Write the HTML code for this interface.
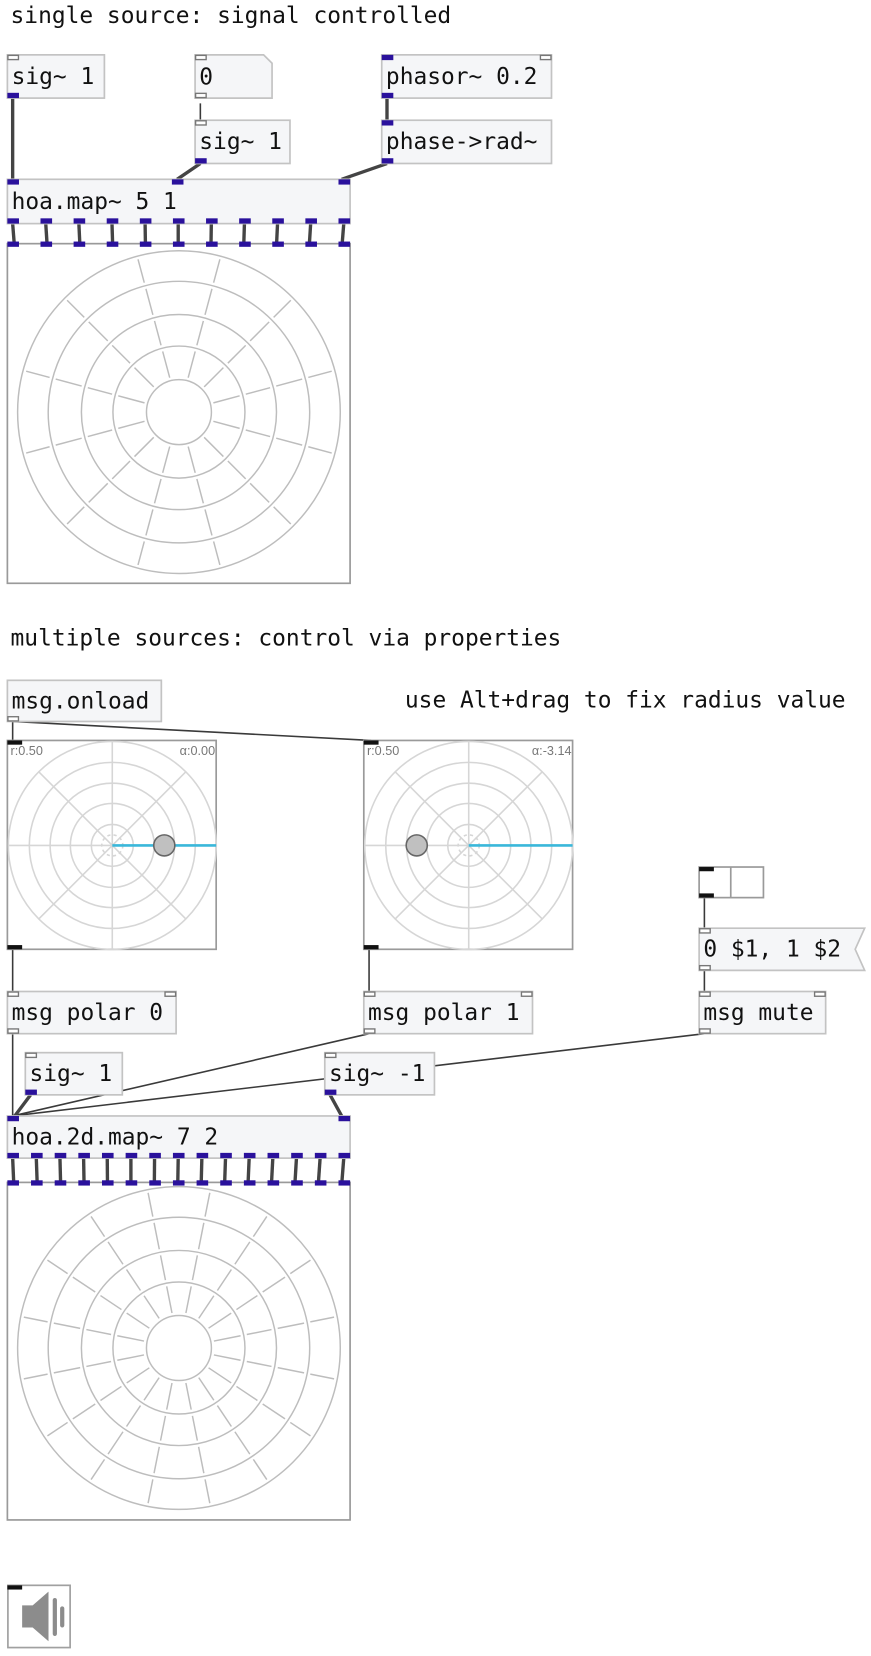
<!DOCTYPE html>
<html><head><meta charset="utf-8"><style>
html,body{margin:0;padding:0;background:#fff;}
svg{display:block;}
text{font-family:"DejaVu Sans Mono","Liberation Mono",monospace;font-size:21.7px;fill:#111;}
.sm{font-family:"Liberation Sans",sans-serif;font-size:12px;fill:#777;}
</style></head><body>
<svg id="patch" width="871" height="1656" viewBox="0 0 826 1570" preserveAspectRatio="none" xmlns="http://www.w3.org/2000/svg">
<text x="10" y="22">single source: signal controlled</text>
<text x="10" y="612">multiple sources: control via properties</text>
<text x="384" y="671">use Alt+drag to fix radius value</text>
<g id="wires"></g>
<g id="objs"></g>
</svg>
<script>
const NS='http://www.w3.org/2000/svg';
const wires=document.getElementById('wires'), objs=document.getElementById('objs');
function el(tag,attrs,parent){const e=document.createElementNS(NS,tag);for(const k in attrs)e.setAttribute(k,attrs[k]);(parent||objs).appendChild(e);return e;}
function wire(x1,y1,x2,y2,thick){const l=el('line',{x1:x1,y1:y1,x2:x2,y2:y2,stroke:thick?'#444':'#3a3a3a','stroke-width':thick?3.2:1.5},wires);

}
function port(x,y,kind){let a;
if(kind==='sig')a={x:x,y:y,width:11,height:5,fill:'#2a119c'};
else if(kind==='blk')a={x:x,y:y,width:14,height:4,fill:'#111'};
else a={x:x+0.5,y:y+0.5,width:10,height:4,fill:'#fff',stroke:'#777','stroke-width':1.3};
const r=el('rect',a);

}
function box(name,x,y,w,h,label,ins,outs){const g=el('g',{});


el('rect',{x:x,y:y,width:w,height:h,fill:'#f5f6f8',stroke:'#c3c3c3','stroke-width':1.6},g);
const t=el('text',{x:x+4,y:y+h/2+7},g);t.textContent=label;
(ins||[]).forEach(p=>port(p[0]==='r'?x+w-11:x+p[0],y,p[1]));
(outs||[]).forEach(p=>port(p[0]==='r'?x+w-11:x+p[0],y+h-5,p[1]));}
// wires section 1
wire(12,93,12,170,1);wire(190,98,190,114,0);wire(190,155,168,170,1);wire(367,93,367,114,1);wire(367,155,324,170,1);
const n1=11;for(let i=0;i<n1;i++){const x=12+i*(314/(n1-1));wire(x+0.0*i,212,x-0.3*i+1.5,231,1);}
// section 2
wire(12,684,12,702,0);wire(12,684,352,702,0);wire(12,900,12,940,0);wire(350,900,350,940,0);
wire(668,851,668,880,0);wire(668,920,668,940,0);wire(12,980,12,1058,0);wire(350,980,12,1058,0);wire(668,980,12,1058,0);
wire(29,1038,14,1058,1);wire(313,1038,324,1058,1);
const n2=15;for(let i=0;i<n2;i++){const x=12+i*(314/(n2-1));wire(x,1098,x-0.2*i+1,1121,1);}
// boxes section 1
box('sig-1-box',7,52,92,41,'sig~ 1',[[0,'ctl']],[[0,'sig']]);
{const g=el('g',{});


el('path',{d:'M185 52 H250 L258 60 V93 H185 Z',fill:'#f5f6f8',stroke:'#c3c3c3','stroke-width':1.6},g);
const t=el('text',{x:189,y:80},g);t.textContent='0';port(185,52,'ctl');port(185,88,'ctl');}
box('sig-1-box-2',185,114,90,41,'sig~ 1',[[0,'ctl']],[[0,'sig']]);
box('phasor-box',362,52,161,41,'phasor~ 0.2',[[0,'sig'],['r','ctl']],[[0,'sig']]);
box('phase-rad-box',362,114,161,41,'phase->rad~',[[0,'sig']],[[0,'sig']]);
box('hoa-map-box',7,170,325,42,'hoa.map~ 5 1',[[0,'sig'],[156,'sig'],['r','sig']],[]);
for(let i=0;i<n1;i++)port(7+i*(314/(n1-1)),207,'sig');
function hoaMap(name,y0,h,cy,nSp,nIn){const g=el('g',{});


el('rect',{x:7,y:y0,width:325,height:h,fill:'#fff',stroke:'#9a9a9a','stroke-width':1.6},g);
const cx=169.7,R=[30.8,62.6,92.5,124,153];
R.forEach(r=>el('circle',{cx:cx,cy:cy,r:r,fill:'none',stroke:'#bdbdbd','stroke-width':1.4},g));
for(let k=0;k<nSp;k++){const a=(k+0.5)*2*Math.PI/nSp;const s=Math.sin(a),c=-Math.cos(a);
for(let j=0;j<R.length-1;j++){const r1=R[j]+3,r2=R[j+1]-3;
el('line',{x1:cx+s*r1,y1:cy+c*r1,x2:cx+s*r2,y2:cy+c*r2,stroke:'#bdbdbd','stroke-width':1.4},g);}}
for(let i=0;i<nIn;i++)port(7+i*(314/(nIn-1)),y0-2,'sig');}
hoaMap('hoa-map-display',231,322,390.7,12,n1);
// section 2 boxes
box('msg-onload-box',7,645,146,39,'msg.onload',[],[[0,'ctl']]);
function planar(name,x0,kx,ang){const g=el('g',{});


el('rect',{x:x0,y:702,width:198,height:198,fill:'#fff',stroke:'#9a9a9a','stroke-width':1.6},g);
const cx=x0+99.5,cy=801.5;
[98.6,78.7,59,39.8,19.9].forEach(r=>el('circle',{cx:cx,cy:cy,r:r,fill:'none',stroke:'#d6d6d6','stroke-width':1.5},g));
el('circle',{cx:cx,cy:cy,r:10,fill:'none',stroke:'#d6d6d6','stroke-width':1.5,'stroke-dasharray':'3 3'},g);
[0,45,90,135].forEach(d=>{const a=d*Math.PI/180,s=Math.cos(a)*98.6,c=Math.sin(a)*98.6;
el('line',{x1:cx-s,y1:cy-c,x2:cx+s,y2:cy+c,stroke:'#d6d6d6','stroke-width':1.5},g);});
el('line',{x1:cx,y1:cy,x2:x0+198,y2:cy,stroke:'#3ab7da','stroke-width':2.5},g);
el('circle',{cx:cx+kx,cy:cy,r:10,fill:'#c0c0c0',stroke:'#666','stroke-width':1.5},g);
const t1=el('text',{x:x0+3,y:716,class:'sm'},g);t1.textContent='r:0.50';
const t2=el('text',{x:x0+197,y:716,class:'sm','text-anchor':'end'},g);t2.textContent=ang;
port(x0,702,'blk');port(x0,896,'blk');}
planar('planar-control-1',7,49.3,'α:0.00');
planar('planar-control-2',345,-49.3,'α:-3.14');
{const g=el('g',{});


el('rect',{x:663,y:822,width:61,height:29,fill:'#fff',stroke:'#9a9a9a','stroke-width':1.6},g);
el('line',{x1:693,y1:822,x2:693,y2:851,stroke:'#9a9a9a','stroke-width':1.6},g);
port(663,822,'blk');port(663,847,'blk');}
{const g=el('g',{});


el('path',{d:'M663 880 H820 L811 900 L820 920 H663 Z',fill:'#f5f6f8',stroke:'#c3c3c3','stroke-width':1.6},g);
const t=el('text',{x:667,y:907},g);t.textContent='0 $1, 1 $2';port(663,880,'ctl');port(663,915,'ctl');}
box('msg-polar-0-box',7,940,160,40,'msg polar 0',[[0,'ctl'],['r','ctl']],[[0,'ctl']]);
box('msg-polar-1-box',345,940,160,40,'msg polar 1',[[0,'ctl'],['r','ctl']],[[0,'ctl']]);
box('msg-mute-box',663,940,120,40,'msg mute',[[0,'ctl'],['r','ctl']],[[0,'ctl']]);
box('sig-1-box-3',24,998,92,40,'sig~ 1',[[0,'ctl']],[[0,'sig']]);
box('sig-neg1-box',308,998,104,40,'sig~ -1',[[0,'ctl']],[[0,'sig']]);
box('hoa-2d-map-box',7,1058,325,40,'hoa.2d.map~ 7 2',[[0,'sig'],['r','sig']],[]);
for(let i=0;i<n2;i++)port(7+i*(314/(n2-1)),1093,'sig');
hoaMap('hoa-2d-map-display',1121,320,1278,16,n2);
{const g=el('g',{});


el('rect',{x:7.5,y:1503,width:59,height:59,fill:'#fff',stroke:'#a0a0a0','stroke-width':1.6},g);
el('path',{d:'M21 1522 H31 L46 1509 V1556 L31 1543 H21 Z',fill:'#8c8c8c'},g);
el('rect',{x:50,y:1515,width:4,height:36,rx:2,fill:'#8c8c8c'},g);
el('rect',{x:57,y:1523,width:4,height:20,rx:2,fill:'#8c8c8c'},g);
port(7,1503,'blk');}
</script>
</body></html>
